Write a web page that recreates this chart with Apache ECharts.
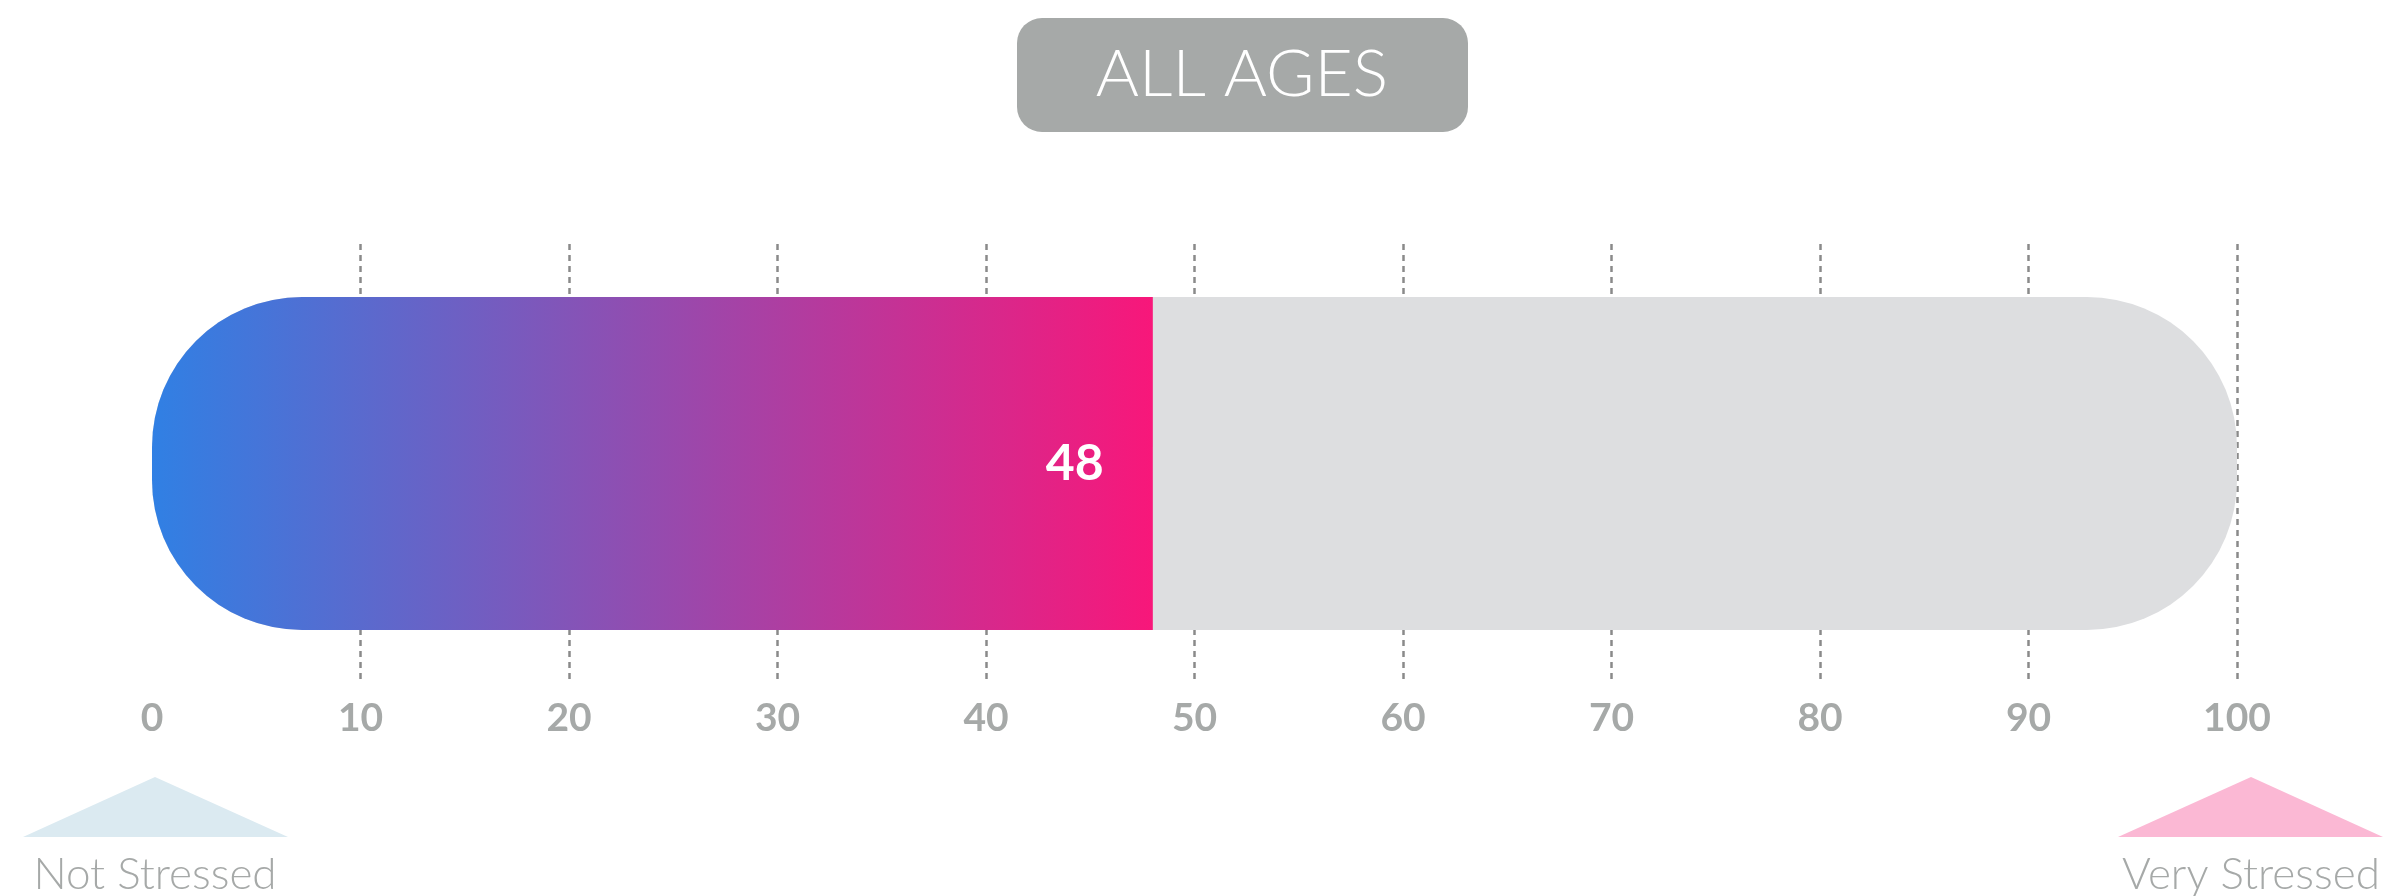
<!DOCTYPE html>
<html>
<head>
<meta charset="utf-8">
<title>All Ages</title>
<script src="https://cdn.jsdelivr.net/npm/echarts@6/dist/echarts.min.js"></script>
<style>
    html, body { margin: 0; padding: 0; background: #fff; }
    #main { width: 2392px; height: 896px; }
</style>
</head>
<body>
<div id="main"></div>
<script>
// 数据
var categories = ['ALL AGES'];
var scores = [48];
var maxScores = [100];
var lowLabel = 'Not Stressed';
var highLabel = 'Very Stressed';

var grey = '#a6a9a8';

var myChart = echarts.init(document.getElementById('main'));

var option = {
    backgroundColor: '#fff',
    animation: false,
    grid: {
        left: 152,
        right: 155,
        top: 244,
        bottom: 213
    },
    xAxis: {
        type: 'value',
        min: 0,
        max: 100,
        interval: 10,
        axisLine: { show: false },
        axisTick: { show: false },
        axisLabel: {
            margin: 16,
            color: grey,
            fontFamily: 'Lato',
            fontWeight: 'bold',
            fontSize: 39
        },
        splitLine: {
            show: true,
            showMinLine: false,
            lineStyle: {
                color: '#8a8a8a',
                width: 2.5,
                type: [6, 5]
            }
        }
    },
    yAxis: {
        type: 'category',
        data: categories,
        show: false
    },
    series: [{
        // 底色
        name: 'max',
        type: 'bar',
        data: maxScores,
        barWidth: 333,
        barGap: '-100%',
        silent: true,
        itemStyle: {
            color: '#dddee0',
            borderRadius: 150
        },
        z: 2
    }, {
        name: 'score',
        type: 'bar',
        data: scores,
        barWidth: 333,
        itemStyle: {
            borderRadius: [150, 0, 0, 150],
            color: new echarts.graphic.LinearGradient(0, 0, 1, 0, [
                { offset: 0, color: '#3080e4' },
                { offset: 1, color: '#f8177a' }
            ])
        },
        label: {
            show: true,
            position: 'insideRight',
            distance: 49,
            color: '#fff',
            fontFamily: 'Lato',
            fontWeight: 'bold',
            fontSize: 50
        },
        z: 3
    }],
    graphic: [{
        // 标题
        type: 'rect',
        shape: { x: 1017, y: 18, width: 451, height: 114, r: 25 },
        style: { fill: grey }
    }, {
        type: 'text',
        x: 1242,
        y: 75,
        style: {
            text: categories[0],
            fill: '#fff',
            font: '300 66px Lato',
            align: 'center',
            verticalAlign: 'middle'
        }
    }, {
        type: 'polygon',
        shape: { points: [[155, 777], [23, 837], [288, 837]] },
        style: { fill: '#dbeaf1' }
    }, {
        type: 'polygon',
        shape: { points: [[2251, 777], [2118, 837], [2383, 837]] },
        style: { fill: '#fbb8d4' }
    }, {
        type: 'text',
        x: 155,
        y: 875,
        style: {
            text: lowLabel,
            fill: grey,
            font: '300 44px Lato',
            align: 'center',
            verticalAlign: 'middle'
        }
    }, {
        type: 'text',
        x: 2251,
        y: 875,
        style: {
            text: highLabel,
            fill: grey,
            font: '300 44px Lato',
            align: 'center',
            verticalAlign: 'middle'
        }
    }]
};

myChart.setOption(option);
</script>
</body>
</html>
